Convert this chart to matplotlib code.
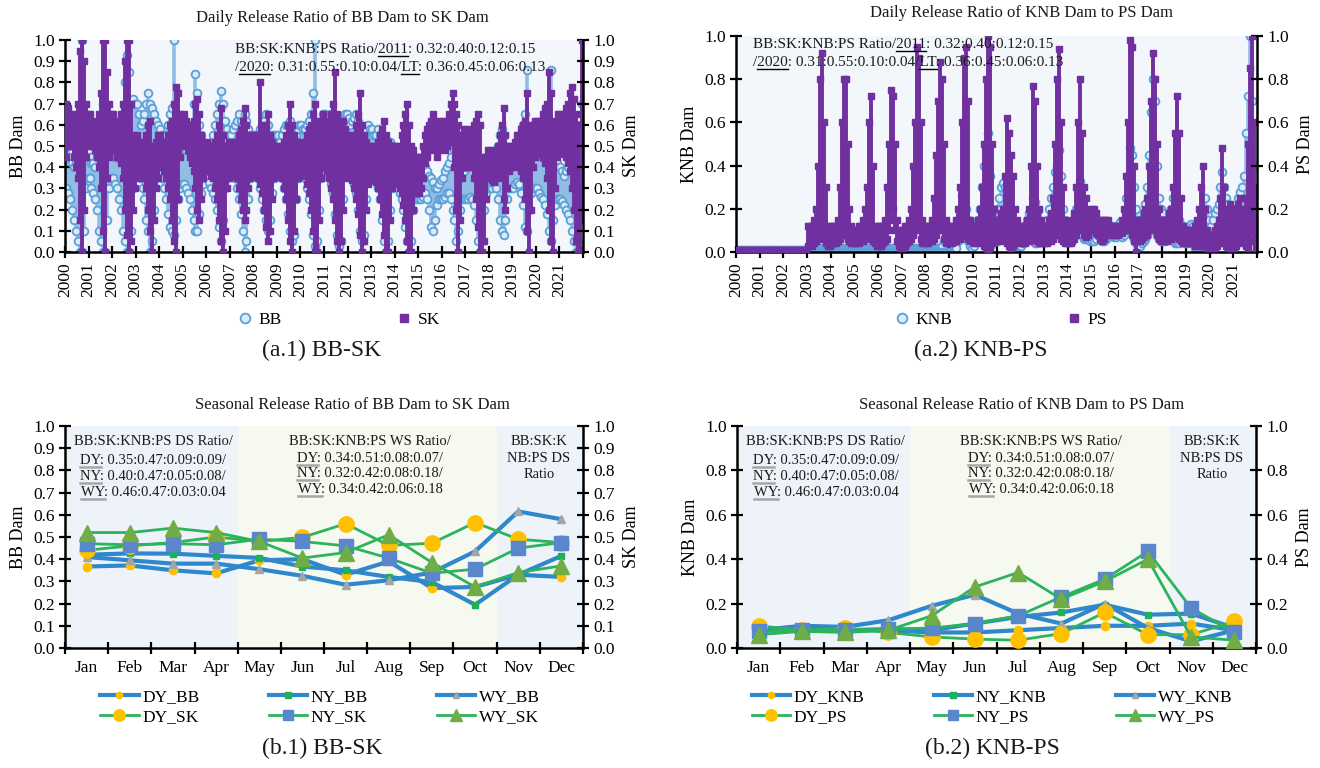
import numpy as np
import matplotlib
matplotlib.use('Agg')
import matplotlib.pyplot as plt
from matplotlib.lines import Line2D
from matplotlib.font_manager import FontProperties
from matplotlib.ticker import FormatStrFormatter

plt.rcParams['font.family'] = ['Liberation Serif', 'DejaVu Serif']

# ---------------- data ----------------
years = list(range(2000, 2022))
year_labels = [str(y) for y in years]
months = ['Jan', 'Feb', 'Mar', 'Apr', 'May', 'Jun', 'Jul', 'Aug', 'Sep', 'Oct', 'Nov', 'Dec']

# daily ratios, read as monthly upper / lower envelopes (one row per year)
bb_hi = [
    0.55,0.50,0.45,0.42,0.40,0.42,0.45,0.60,1.00,0.55,0.45,0.45,
    0.45,0.42,0.42,0.40,0.45,0.50,0.60,0.70,0.65,0.55,0.50,0.48,
    0.48,0.45,0.45,0.50,0.55,0.65,0.80,0.93,0.85,0.70,0.72,0.70,
    0.70,0.65,0.60,0.62,0.65,0.70,0.75,0.70,0.68,0.65,0.62,0.60,
    0.58,0.55,0.52,0.55,0.60,0.65,0.68,1.00,0.65,0.60,0.55,0.52,
    0.50,0.48,0.50,0.55,0.60,0.70,0.84,0.75,0.60,0.55,0.52,0.50,
    0.50,0.48,0.50,0.55,0.60,0.65,0.70,0.76,0.70,0.62,0.58,0.55,
    0.55,0.58,0.60,0.62,0.65,0.62,0.60,0.65,0.62,0.58,0.55,0.55,
    0.55,0.52,0.55,0.58,0.60,0.62,0.65,0.60,0.55,0.55,0.55,0.55,
    0.55,0.52,0.55,0.58,0.60,0.60,0.62,0.58,0.55,0.55,0.58,0.60,
    0.60,0.58,0.58,0.60,0.62,0.65,0.75,1.00,0.60,0.58,0.60,0.65,
    0.65,0.62,0.63,0.65,0.62,0.60,0.58,0.55,0.55,0.58,0.65,0.65,
    0.63,0.60,0.62,0.63,0.65,0.62,0.58,0.55,0.55,0.58,0.60,0.58,
    0.58,0.55,0.55,0.58,0.55,0.52,0.50,0.48,0.50,0.52,0.50,0.48,
    0.48,0.45,0.45,0.48,0.50,0.48,0.45,0.42,0.40,0.38,0.36,0.35,
    0.35,0.36,0.38,0.40,0.38,0.36,0.35,0.33,0.30,0.30,0.32,0.34,
    0.35,0.38,0.40,0.42,0.45,0.50,0.48,0.45,0.40,0.38,0.38,0.38,
    0.40,0.42,0.42,0.45,0.45,0.42,0.40,0.38,0.35,0.38,0.40,0.40,
    0.40,0.42,0.45,0.48,0.50,0.55,0.58,0.55,0.50,0.45,0.42,0.42,
    0.42,0.45,0.48,0.52,0.55,0.60,0.65,0.86,0.58,0.50,0.48,0.48,
    0.48,0.46,0.45,0.45,0.48,0.50,0.62,0.86,0.50,0.45,0.42,0.40,
    0.40,0.38,0.36,0.38,0.40,0.42,0.45,0.42,0.40,0.45,0.60,0.70,
]
bb_lo = [
    0.30,0.28,0.25,0.20,0.15,0.10,0.05,0.00,0.00,0.10,0.30,0.35,
    0.35,0.30,0.28,0.25,0.20,0.10,0.05,0.00,0.00,0.15,0.30,0.35,
    0.35,0.32,0.30,0.25,0.20,0.10,0.05,0.00,0.00,0.10,0.30,0.40,
    0.40,0.38,0.35,0.30,0.25,0.15,0.10,0.00,0.05,0.20,0.35,0.38,
    0.38,0.35,0.30,0.25,0.18,0.12,0.10,0.08,0.15,0.25,0.30,0.32,
    0.32,0.30,0.28,0.25,0.20,0.15,0.10,0.10,0.18,0.28,0.32,0.35,
    0.35,0.33,0.30,0.28,0.25,0.20,0.12,0.05,0.15,0.30,0.35,0.38,
    0.38,0.36,0.35,0.30,0.25,0.18,0.10,0.00,0.05,0.25,0.35,0.38,
    0.38,0.36,0.35,0.30,0.25,0.20,0.15,0.10,0.15,0.28,0.35,0.38,
    0.38,0.36,0.35,0.30,0.25,0.18,0.10,0.05,0.08,0.25,0.35,0.38,
    0.38,0.36,0.35,0.30,0.25,0.18,0.08,0.03,0.05,0.20,0.35,0.40,
    0.40,0.38,0.36,0.32,0.28,0.18,0.08,0.03,0.05,0.25,0.38,0.40,
    0.40,0.38,0.36,0.32,0.28,0.20,0.10,0.05,0.08,0.25,0.35,0.38,
    0.38,0.35,0.33,0.30,0.25,0.15,0.05,0.00,0.05,0.20,0.30,0.32,
    0.32,0.30,0.28,0.25,0.20,0.12,0.05,0.00,0.05,0.20,0.25,0.25,
    0.25,0.25,0.26,0.28,0.25,0.20,0.12,0.10,0.15,0.22,0.25,0.25,
    0.25,0.26,0.28,0.28,0.25,0.20,0.15,0.05,0.10,0.20,0.25,0.25,
    0.25,0.25,0.26,0.25,0.22,0.15,0.05,0.00,0.05,0.20,0.28,0.30,
    0.30,0.30,0.32,0.30,0.25,0.15,0.10,0.08,0.15,0.25,0.30,0.30,
    0.30,0.32,0.33,0.32,0.28,0.22,0.12,0.10,0.20,0.28,0.30,0.30,
    0.30,0.28,0.26,0.25,0.22,0.18,0.10,0.05,0.15,0.22,0.25,0.25,
    0.25,0.24,0.22,0.20,0.18,0.15,0.10,0.05,0.00,0.05,0.20,0.40,
]
sk_hi = [
    0.70,0.68,0.65,0.62,0.60,0.65,0.70,0.95,1.00,0.90,0.70,0.65,
    0.65,0.62,0.60,0.60,0.62,0.65,0.75,1.00,1.00,0.85,0.70,0.65,
    0.65,0.62,0.60,0.62,0.65,0.70,0.90,1.00,1.00,0.70,0.55,0.50,
    0.55,0.52,0.50,0.50,0.52,0.55,0.60,0.62,0.45,0.50,0.52,0.55,
    0.55,0.52,0.50,0.52,0.55,0.60,0.62,0.70,0.78,0.75,0.65,0.62,
    0.65,0.62,0.60,0.58,0.60,0.62,0.70,0.72,0.65,0.55,0.52,0.50,
    0.52,0.50,0.48,0.50,0.52,0.55,0.60,0.68,0.55,0.50,0.50,0.52,
    0.52,0.50,0.50,0.52,0.55,0.58,0.62,0.68,0.60,0.55,0.52,0.55,
    0.55,0.52,0.55,0.80,0.60,0.55,0.60,0.65,0.55,0.52,0.50,0.50,
    0.50,0.48,0.50,0.52,0.55,0.60,0.70,0.60,0.55,0.52,0.50,0.50,
    0.52,0.50,0.52,0.55,0.58,0.60,0.65,0.70,0.62,0.60,0.62,0.65,
    0.62,0.60,0.62,0.65,0.70,0.85,0.65,0.62,0.60,0.62,0.58,0.55,
    0.52,0.50,0.52,0.55,0.60,0.65,0.75,0.60,0.55,0.52,0.50,0.50,
    0.50,0.48,0.50,0.52,0.55,0.58,0.62,0.55,0.52,0.50,0.50,0.50,
    0.50,0.48,0.50,0.55,0.60,0.65,0.70,0.60,0.50,0.48,0.45,0.45,
    0.45,0.45,0.50,0.55,0.58,0.60,0.62,0.65,0.62,0.60,0.60,0.62,
    0.62,0.60,0.62,0.65,0.70,0.75,0.70,0.65,0.60,0.55,0.55,0.58,
    0.58,0.55,0.55,0.58,0.60,0.62,0.65,0.60,0.45,0.45,0.45,0.48,
    0.48,0.46,0.45,0.48,0.50,0.55,0.60,0.68,0.55,0.50,0.48,0.50,
    0.50,0.52,0.55,0.55,0.58,0.60,0.62,0.75,0.60,0.58,0.60,0.62,
    0.62,0.60,0.62,0.65,0.68,0.70,0.85,0.75,0.62,0.60,0.62,0.65,
    0.65,0.62,0.65,0.68,0.70,0.75,0.78,0.72,0.65,0.60,0.30,1.00,
]
sk_lo = [
    0.45,0.50,0.52,0.50,0.45,0.40,0.35,0.15,0.00,0.20,0.45,0.50,
    0.50,0.52,0.50,0.48,0.45,0.40,0.30,0.10,0.00,0.35,0.45,0.48,
    0.50,0.48,0.45,0.45,0.42,0.35,0.20,0.08,0.00,0.05,0.20,0.30,
    0.35,0.38,0.40,0.38,0.35,0.30,0.20,0.10,0.00,0.15,0.30,0.35,
    0.40,0.40,0.38,0.35,0.30,0.25,0.15,0.05,0.00,0.25,0.45,0.50,
    0.52,0.50,0.48,0.45,0.42,0.38,0.30,0.20,0.15,0.25,0.35,0.38,
    0.40,0.38,0.36,0.35,0.30,0.25,0.15,0.05,0.00,0.10,0.30,0.35,
    0.38,0.36,0.38,0.35,0.30,0.25,0.20,0.15,0.20,0.30,0.35,0.38,
    0.38,0.36,0.35,0.32,0.28,0.20,0.12,0.05,0.10,0.25,0.35,0.38,
    0.38,0.36,0.35,0.30,0.25,0.15,0.05,0.00,0.10,0.25,0.35,0.38,
    0.38,0.38,0.36,0.32,0.28,0.20,0.10,0.00,0.00,0.15,0.35,0.40,
    0.40,0.38,0.35,0.30,0.25,0.15,0.05,0.00,0.05,0.20,0.35,0.38,
    0.36,0.35,0.34,0.30,0.25,0.18,0.08,0.00,0.05,0.20,0.32,0.35,
    0.35,0.34,0.33,0.30,0.25,0.18,0.08,0.00,0.00,0.15,0.30,0.33,
    0.33,0.32,0.30,0.28,0.22,0.15,0.05,0.00,0.00,0.20,0.28,0.28,
    0.28,0.30,0.35,0.42,0.45,0.48,0.50,0.50,0.48,0.45,0.48,0.50,
    0.50,0.48,0.50,0.52,0.55,0.52,0.40,0.20,0.00,0.15,0.35,0.40,
    0.40,0.40,0.42,0.40,0.35,0.25,0.12,0.00,0.00,0.05,0.25,0.35,
    0.35,0.34,0.33,0.35,0.38,0.40,0.35,0.25,0.20,0.30,0.38,0.40,
    0.40,0.42,0.42,0.40,0.38,0.35,0.25,0.10,0.00,0.20,0.40,0.45,
    0.48,0.46,0.47,0.45,0.42,0.35,0.20,0.05,0.00,0.30,0.45,0.48,
    0.50,0.48,0.46,0.45,0.42,0.38,0.30,0.20,0.05,0.00,0.00,0.15,
]
knb_hi = [
    0.01,0.01,0.01,0.01,0.01,0.01,0.01,0.01,0.01,0.01,0.01,0.01,
    0.01,0.01,0.01,0.01,0.01,0.01,0.01,0.01,0.01,0.01,0.01,0.01,
    0.01,0.01,0.01,0.01,0.01,0.01,0.01,0.01,0.01,0.01,0.01,0.01,
    0.02,0.02,0.02,0.02,0.02,0.02,0.02,0.02,0.02,0.02,0.02,0.02,
    0.02,0.02,0.02,0.02,0.02,0.02,0.02,0.02,0.02,0.02,0.02,0.02,
    0.02,0.02,0.02,0.02,0.02,0.02,0.02,0.02,0.02,0.02,0.02,0.02,
    0.02,0.02,0.02,0.02,0.02,0.02,0.02,0.02,0.02,0.02,0.02,0.02,
    0.02,0.02,0.02,0.02,0.02,0.02,0.02,0.02,0.02,0.02,0.02,0.02,
    0.02,0.02,0.02,0.02,0.02,0.02,0.02,0.02,0.03,0.05,0.08,0.10,
    0.05,0.05,0.08,0.10,0.15,0.20,0.26,0.25,0.20,0.15,0.10,0.08,
    0.10,0.12,0.15,0.20,0.30,0.40,0.48,0.55,0.35,0.20,0.15,0.15,
    0.20,0.25,0.30,0.32,0.30,0.25,0.20,0.18,0.15,0.12,0.10,0.08,
    0.08,0.10,0.12,0.15,0.18,0.20,0.25,0.23,0.18,0.15,0.12,0.10,
    0.12,0.15,0.20,0.25,0.30,0.37,0.40,0.47,0.35,0.20,0.15,0.12,
    0.10,0.10,0.12,0.15,0.20,0.30,0.33,0.25,0.20,0.15,0.12,0.10,
    0.10,0.10,0.12,0.14,0.12,0.10,0.08,0.08,0.10,0.12,0.12,0.10,
    0.10,0.12,0.14,0.12,0.15,0.25,0.35,0.48,0.45,0.30,0.20,0.15,
    0.15,0.15,0.18,0.22,0.30,0.45,0.65,0.80,0.70,0.40,0.25,0.20,
    0.18,0.15,0.15,0.18,0.20,0.25,0.20,0.18,0.15,0.12,0.12,0.10,
    0.10,0.12,0.13,0.12,0.10,0.08,0.10,0.12,0.20,0.25,0.20,0.15,
    0.12,0.15,0.18,0.20,0.22,0.30,0.37,0.30,0.25,0.22,0.20,0.18,
    0.18,0.20,0.25,0.28,0.30,0.35,0.55,0.72,1.00,0.70,0.40,0.25,
]
knb_lo = [
    0.00,0.00,0.00,0.00,0.00,0.00,0.00,0.00,0.00,0.00,0.00,0.00,
    0.00,0.00,0.00,0.00,0.00,0.00,0.00,0.00,0.00,0.00,0.00,0.00,
    0.00,0.00,0.00,0.00,0.00,0.00,0.00,0.00,0.00,0.00,0.00,0.00,
    0.00,0.00,0.00,0.00,0.00,0.00,0.00,0.00,0.00,0.00,0.00,0.00,
    0.00,0.00,0.00,0.00,0.00,0.00,0.00,0.00,0.00,0.00,0.00,0.00,
    0.00,0.00,0.00,0.00,0.00,0.00,0.00,0.00,0.00,0.00,0.00,0.00,
    0.00,0.00,0.00,0.00,0.00,0.00,0.00,0.00,0.00,0.00,0.00,0.00,
    0.00,0.00,0.00,0.00,0.00,0.00,0.00,0.00,0.00,0.00,0.00,0.00,
    0.00,0.00,0.00,0.00,0.00,0.00,0.00,0.00,0.00,0.00,0.00,0.00,
    0.00,0.00,0.00,0.02,0.05,0.08,0.10,0.10,0.08,0.05,0.03,0.02,
    0.03,0.05,0.05,0.08,0.10,0.12,0.10,0.05,0.03,0.05,0.05,0.05,
    0.05,0.08,0.10,0.12,0.10,0.08,0.05,0.02,0.02,0.03,0.03,0.03,
    0.03,0.04,0.05,0.06,0.08,0.08,0.06,0.04,0.04,0.05,0.05,0.05,
    0.05,0.06,0.08,0.10,0.12,0.15,0.15,0.12,0.08,0.06,0.06,0.05,
    0.05,0.05,0.06,0.08,0.10,0.12,0.12,0.08,0.06,0.06,0.06,0.05,
    0.05,0.05,0.06,0.08,0.07,0.05,0.05,0.06,0.07,0.08,0.08,0.07,
    0.07,0.08,0.08,0.07,0.08,0.10,0.12,0.15,0.10,0.06,0.04,0.03,
    0.03,0.04,0.05,0.06,0.08,0.12,0.15,0.18,0.12,0.08,0.06,0.05,
    0.05,0.05,0.06,0.07,0.06,0.05,0.04,0.04,0.04,0.05,0.05,0.04,
    0.04,0.05,0.05,0.04,0.02,0.01,0.02,0.03,0.04,0.04,0.03,0.02,
    0.02,0.02,0.03,0.05,0.06,0.08,0.10,0.06,0.04,0.02,0.01,0.01,
    0.02,0.04,0.06,0.08,0.10,0.12,0.15,0.20,0.30,0.20,0.10,0.05,
]
ps_hi = [
    0.01,0.01,0.01,0.01,0.01,0.01,0.01,0.01,0.01,0.01,0.01,0.01,
    0.01,0.01,0.01,0.01,0.01,0.01,0.01,0.01,0.01,0.01,0.01,0.01,
    0.01,0.01,0.01,0.01,0.01,0.01,0.01,0.01,0.01,0.01,0.01,0.01,
    0.12,0.12,0.12,0.15,0.20,0.40,0.80,0.92,0.60,0.30,0.12,0.12,
    0.12,0.12,0.12,0.15,0.30,0.60,0.80,0.80,0.50,0.20,0.12,0.10,
    0.10,0.10,0.12,0.12,0.15,0.20,0.30,0.60,0.72,0.40,0.12,0.12,
    0.12,0.12,0.12,0.15,0.30,0.50,0.75,0.72,0.50,0.15,0.10,0.10,
    0.10,0.12,0.12,0.15,0.20,0.40,0.60,0.95,0.90,0.60,0.15,0.12,
    0.12,0.12,0.12,0.15,0.25,0.45,0.70,0.88,0.80,0.50,0.15,0.12,
    0.12,0.12,0.12,0.15,0.20,0.30,0.60,0.90,0.95,0.70,0.15,0.12,
    0.12,0.12,0.15,0.20,0.30,0.50,0.80,1.00,0.95,0.50,0.20,0.15,
    0.15,0.15,0.18,0.20,0.35,0.62,0.55,0.45,0.35,0.20,0.15,0.12,
    0.12,0.12,0.12,0.15,0.20,0.40,0.77,0.70,0.40,0.20,0.15,0.12,
    0.12,0.12,0.15,0.18,0.25,0.50,0.80,0.94,0.60,0.30,0.15,0.12,
    0.12,0.12,0.15,0.18,0.30,0.60,0.80,0.55,0.30,0.25,0.20,0.18,
    0.20,0.20,0.18,0.15,0.15,0.15,0.15,0.15,0.15,0.12,0.12,0.12,
    0.12,0.12,0.12,0.15,0.20,0.35,0.60,0.98,0.95,0.40,0.15,0.15,
    0.15,0.15,0.18,0.20,0.25,0.40,0.70,0.92,0.80,0.50,0.20,0.15,
    0.15,0.15,0.15,0.18,0.20,0.30,0.55,0.72,0.55,0.25,0.12,0.10,
    0.10,0.10,0.10,0.10,0.12,0.15,0.20,0.30,0.40,0.20,0.10,0.08,
    0.08,0.08,0.10,0.12,0.15,0.25,0.48,0.30,0.20,0.20,0.22,0.20,
    0.20,0.20,0.22,0.25,0.20,0.20,0.25,0.50,0.85,1.00,0.60,0.30,
]
ps_lo = [
    0.00,0.00,0.00,0.00,0.00,0.00,0.00,0.00,0.00,0.00,0.00,0.00,
    0.00,0.00,0.00,0.00,0.00,0.00,0.00,0.00,0.00,0.00,0.00,0.00,
    0.00,0.00,0.00,0.00,0.00,0.00,0.00,0.00,0.00,0.00,0.00,0.00,
    0.03,0.03,0.03,0.04,0.05,0.06,0.08,0.10,0.06,0.04,0.03,0.03,
    0.04,0.04,0.04,0.05,0.06,0.08,0.10,0.08,0.06,0.05,0.04,0.04,
    0.04,0.04,0.04,0.05,0.05,0.06,0.06,0.08,0.08,0.05,0.04,0.03,
    0.03,0.03,0.04,0.05,0.06,0.10,0.15,0.20,0.10,0.05,0.03,0.02,
    0.02,0.03,0.04,0.05,0.06,0.08,0.10,0.12,0.10,0.06,0.04,0.04,
    0.04,0.04,0.05,0.05,0.06,0.08,0.10,0.12,0.10,0.06,0.04,0.04,
    0.04,0.04,0.05,0.05,0.06,0.06,0.08,0.10,0.08,0.06,0.05,0.05,
    0.04,0.04,0.05,0.05,0.04,0.03,0.02,0.00,0.02,0.04,0.05,0.05,
    0.05,0.05,0.06,0.06,0.05,0.04,0.03,0.02,0.03,0.04,0.05,0.05,
    0.04,0.04,0.04,0.05,0.05,0.06,0.07,0.06,0.05,0.04,0.04,0.04,
    0.04,0.04,0.05,0.05,0.06,0.08,0.10,0.10,0.06,0.05,0.04,0.04,
    0.04,0.04,0.05,0.06,0.08,0.10,0.12,0.10,0.08,0.07,0.08,0.10,
    0.10,0.10,0.09,0.08,0.06,0.05,0.06,0.08,0.09,0.09,0.08,0.08,
    0.08,0.08,0.09,0.09,0.10,0.10,0.12,0.12,0.08,0.05,0.00,0.05,
    0.05,0.06,0.07,0.08,0.08,0.10,0.12,0.15,0.10,0.08,0.06,0.05,
    0.05,0.05,0.05,0.06,0.06,0.07,0.08,0.08,0.06,0.05,0.04,0.04,
    0.04,0.04,0.04,0.04,0.03,0.03,0.03,0.04,0.04,0.03,0.02,0.02,
    0.02,0.02,0.02,0.03,0.04,0.05,0.06,0.04,0.03,0.02,0.02,0.02,
    0.02,0.03,0.04,0.05,0.05,0.04,0.03,0.02,0.05,0.10,0.05,0.02,
]

# seasonal (monthly mean) ratios
dy_bb = [0.367, 0.372, 0.350, 0.336, 0.395, 0.400, 0.330, 0.390, 0.270, 0.275, 0.330, 0.320]
ny_bb = [0.420, 0.426, 0.425, 0.415, 0.406, 0.367, 0.350, 0.320, 0.297, 0.195, 0.330, 0.415]
wy_bb = [0.410, 0.395, 0.380, 0.380, 0.355, 0.325, 0.285, 0.305, 0.340, 0.435, 0.615, 0.580]
dy_sk = [0.440, 0.460, 0.475, 0.500, 0.480, 0.498, 0.560, 0.462, 0.472, 0.565, 0.490, 0.475]
ny_sk = [0.470, 0.465, 0.470, 0.465, 0.490, 0.480, 0.460, 0.405, 0.337, 0.355, 0.450, 0.475]
wy_sk = [0.520, 0.520, 0.540, 0.520, 0.480, 0.405, 0.430, 0.510, 0.385, 0.275, 0.340, 0.370]

dy_knb = [0.080, 0.080, 0.080, 0.080, 0.070, 0.070, 0.080, 0.090, 0.100, 0.100, 0.110, 0.080]
ny_knb = [0.080, 0.080, 0.080, 0.085, 0.080, 0.110, 0.140, 0.160, 0.195, 0.150, 0.155, 0.090]
wy_knb = [0.080, 0.100, 0.095, 0.125, 0.190, 0.240, 0.155, 0.110, 0.200, 0.090, 0.030, 0.080]
dy_ps = [0.100, 0.080, 0.090, 0.070, 0.050, 0.040, 0.035, 0.065, 0.160, 0.060, 0.060, 0.120]
ny_ps = [0.075, 0.080, 0.080, 0.085, 0.090, 0.110, 0.145, 0.230, 0.310, 0.435, 0.180, 0.070]
wy_ps = [0.060, 0.075, 0.070, 0.080, 0.145, 0.275, 0.340, 0.220, 0.300, 0.400, 0.050, 0.035]

# ---------------- styling ----------------
FW, FH = 1320, 768
fig = plt.figure(figsize=(FW / 100, FH / 100), dpi=100)
renderer = fig.canvas.get_renderer()

def fx(px):
    return px / FW

def fy(py):
    return 1 - py / FH

BLUE = '#2f87cc'
GREEN = '#2bb35e'
YELLOW = '#ffc000'
SQ_BLUE = '#5a86cc'
TRI_GREEN = '#70ad47'
GREY = '#a5a5a5'
SMALL_SQ = '#1fb15a'
PURPLE = '#7030a0'
CIRC_EDGE = '#5b9fd8'
CIRC_FACE = '#dceaf7'
PLOT_BG = '#f3f7fc'
DS_BG = '#edf3f9'
WS_BG = '#f6f9ef'
TXT = '#1a1a1a'


def rich_text(x_px, y_px, segments, size, ha='left', ul_color='black', ul_lw=1.0):
    fp = FontProperties(family='Liberation Serif', size=size)

    def width(s):
        if not s:
            return 0.0
        w, h, d = renderer.get_text_width_height_descent(s, fp, ismath=False)
        return w

    full = ''.join(s for s, _ in segments)
    total = width(full)
    x0 = x_px - total / 2 if ha == 'center' else x_px
    fig.text(fx(x0), fy(y_px), full, fontproperties=fp, ha='left', va='baseline', color=TXT)
    prefix = ''
    for s, ul in segments:
        start = width(prefix)
        prefix += s
        end = width(prefix)
        if ul:
            fig.add_artist(Line2D([fx(x0 + start), fx(x0 + end)], [fy(y_px + 3)] * 2,
                                  transform=fig.transFigure, color=ul_color, lw=ul_lw))


def style_axes(ax, ax2, ystep, ylab_l, ylab_r):
    for a in (ax, ax2):
        a.set_ylim(0, 1)
        a.set_yticks(np.round(np.arange(0, 1.0001, ystep), 2))
        a.yaxis.set_major_formatter(FormatStrFormatter('%.1f'))
        a.tick_params(axis='y', direction='inout', length=9, width=1.6, labelsize=12.5,
                      colors='black', pad=3)
    ax.tick_params(axis='x', direction='inout', length=9, width=1.6, labelsize=12.5, pad=3)
    ax.spines['top'].set_visible(False)
    ax.spines['right'].set_visible(False)
    for sp in ('top', 'left', 'bottom'):
        ax2.spines[sp].set_visible(False)
    for sp in ('left', 'bottom'):
        ax.spines[sp].set_linewidth(1.8)
    ax2.spines['right'].set_linewidth(1.8)
    ax.set_ylabel(ylab_l, fontsize=13, labelpad=4)
    ax2.set_ylabel(ylab_r, fontsize=13, labelpad=6)


# ---------------- daily panels ----------------
t = np.array([y + (m + 0.5) / 12.0 for y in years for m in range(12)])


def daily_panel(rect, lo_a, hi_a, lo_b, hi_b, ystep, ylab_l, ylab_r):
    ax = fig.add_axes(rect)
    ax.set_facecolor(PLOT_BG)
    ax2 = ax.twinx()
    ax.vlines(t, lo_a, hi_a, color='#8fbde6', lw=2.6, zorder=1)
    ax.plot(t, hi_a, 'o', ms=5.6, mfc=CIRC_FACE, mec=CIRC_EDGE, mew=1.3, zorder=2)
    ax.plot(t, lo_a, 'o', ms=5.6, mfc=CIRC_FACE, mec=CIRC_EDGE, mew=1.3, zorder=2)
    ax2.vlines(t, lo_b, hi_b, color=PURPLE, lw=2.8, zorder=1)
    ax2.plot(t, hi_b, 's', ms=4.2, color=PURPLE, zorder=2)
    ax2.plot(t, lo_b, 's', ms=4.2, color=PURPLE, zorder=2)
    ax.set_xlim(2000, 2022)
    ax.set_xticks(list(range(2000, 2023)))
    ax.set_xticklabels(year_labels + [''], rotation=90)
    style_axes(ax, ax2, ystep, ylab_l, ylab_r)
    return ax, ax2


ax_a1, ax_a1r = daily_panel([fx(65), fy(252), fx(583) - fx(65), fy(40) - fy(252)],
                            bb_lo, bb_hi, sk_lo, sk_hi, 0.1, 'BB Dam', 'SK Dam')
ax_a2, ax_a2r = daily_panel([fx(736), fy(252), fx(1257) - fx(736), fy(36) - fy(252)],
                            knb_lo, knb_hi, ps_lo, ps_hi, 0.2, 'KNB Dam', 'PS Dam')

fig.text(fx(342), fy(18), 'Daily Release Ratio of BB Dam to SK Dam', ha='center', va='center', fontsize=12, color=TXT)
fig.text(fx(1021), fy(13), 'Daily Release Ratio of KNB Dam to PS Dam', ha='center', va='center', fontsize=12, color=TXT)

for (x0, y1, y2) in [(235, 53, 71), (753, 48, 66)]:
    rich_text(x0, y1, [('BB:SK:KNB:PS Ratio/', False), ('2011', True), (': 0.32:0.40:0.12:0.15', False)], 11)
    rich_text(x0, y2, [('/', False), ('2020', True), (': 0.31:0.55:0.10:0.04/', False), ('LT', True),
                       (': 0.36:0.45:0.06:0.13', False)], 11)

circ_h = Line2D([], [], ls='none', marker='o', ms=7, mfc=CIRC_FACE, mec=CIRC_EDGE, mew=1.3)
sq_h = Line2D([], [], ls='none', marker='s', ms=6, color=PURPLE)
for cx, labs in [(338, ['BB', 'SK']), (1000, ['KNB', 'PS'])]:
    fig.legend([circ_h, sq_h], labs, loc='center', bbox_to_anchor=(fx(cx), fy(320)), ncol=2,
               frameon=False, fontsize=12.5, columnspacing=6.5, handletextpad=0.3, handlelength=1.0)

fig.text(fx(322), fy(350), '(a.1) BB-SK', ha='center', va='center', fontsize=17, color=TXT)
fig.text(fx(981), fy(350), '(a.2) KNB-PS', ha='center', va='center', fontsize=17, color=TXT)

# ---------------- seasonal panels ----------------
x_m = np.arange(12)

series_style = [
    dict(color=BLUE, lw=3.0, marker='o', ms=6, mfc=YELLOW, mec=YELLOW),
    dict(color=BLUE, lw=3.0, marker='s', ms=5, mfc=SMALL_SQ, mec=SMALL_SQ),
    dict(color=BLUE, lw=3.0, marker='^', ms=6, mfc=GREY, mec=GREY),
    dict(color=GREEN, lw=2.0, marker='o', ms=11, mfc=YELLOW, mec=YELLOW),
    dict(color=GREEN, lw=2.0, marker='s', ms=10, mfc=SQ_BLUE, mec=SQ_BLUE),
    dict(color=GREEN, lw=2.0, marker='^', ms=11, mfc=TRI_GREEN, mec=TRI_GREEN),
]


def seasonal_panel(rect, left_series, right_series, ystep, ylab_l, ylab_r):
    ax = fig.add_axes(rect)
    ax.set_facecolor('white')
    ax.axvspan(-0.5, 3.5, color=DS_BG, lw=0, zorder=0)
    ax.axvspan(3.5, 9.5, color=WS_BG, lw=0, zorder=0)
    ax.axvspan(9.5, 11.5, color=DS_BG, lw=0, zorder=0)
    ax2 = ax.twinx()
    handles = []
    for vals, st in zip(left_series, series_style[:3]):
        h, = ax.plot(x_m, vals, zorder=3, **st)
        handles.append(h)
    for vals, st in zip(right_series, series_style[3:]):
        h, = ax2.plot(x_m, vals, zorder=3, **st)
        handles.append(h)
    ax.set_xlim(-0.5, 11.5)
    ax.set_xticks(np.arange(-0.5, 11.6, 1.0))
    ax.set_xticklabels([])
    ax.set_xticks(x_m, minor=True)
    ax.set_xticklabels(months, minor=True)
    ax.tick_params(axis='x', which='minor', length=0, labelsize=12.5, pad=9)
    style_axes(ax, ax2, ystep, ylab_l, ylab_r)
    return ax, ax2, handles


bl_rect = [fx(65), fy(648), fx(583) - fx(65), fy(426) - fy(648)]
br_rect = [fx(737), fy(648), fx(1256) - fx(737), fy(426) - fy(648)]
ax_b1, ax_b1r, h1 = seasonal_panel(bl_rect, [dy_bb, ny_bb, wy_bb], [dy_sk, ny_sk, wy_sk], 0.1, 'BB Dam', 'SK Dam')
ax_b2, ax_b2r, h2 = seasonal_panel(br_rect, [dy_knb, ny_knb, wy_knb], [dy_ps, ny_ps, wy_ps], 0.2, 'KNB Dam', 'PS Dam')

fig.text(fx(352), fy(405), 'Seasonal Release Ratio of BB Dam to SK Dam', ha='center', va='center', fontsize=12, color=TXT)
fig.text(fx(1022), fy(405), 'Seasonal Release Ratio of KNB Dam to PS Dam', ha='center', va='center', fontsize=12, color=TXT)

for (cl, cm, cr) in [(153, 370, 539), (826, 1041, 1212)]:
    ds_lines = [('BB:SK:KNB:PS DS Ratio/', None), ('DY', ': 0.35:0.47:0.09:0.09/'),
                ('NY', ': 0.40:0.47:0.05:0.08/'), ('WY', ': 0.46:0.47:0.03:0.04')]
    ws_lines = [('BB:SK:KNB:PS WS Ratio/', None), ('DY', ': 0.34:0.51:0.08:0.07/'),
                ('NY', ': 0.32:0.42:0.08:0.18/'), ('WY', ': 0.34:0.42:0.06:0.18')]
    for lines, cx, ys in [(ds_lines, cl, [445, 464, 480, 496]), (ws_lines, cm, [445, 462, 477, 493])]:
        for (a, b), yy in zip(lines, ys):
            if b is None:
                rich_text(cx, yy, [(a, False)], 10.5, ha='center')
            else:
                rich_text(cx, yy, [(a, True), (b, False)], 10.5, ha='center', ul_color='#a6a6a6', ul_lw=1.8)
    for s, yy in zip(['BB:SK:K', 'NB:PS DS', 'Ratio'], [445, 462, 478]):
        rich_text(cr, yy, [(s, False)], 10.5, ha='center')

order = [0, 3, 1, 4, 2, 5]
for cx, hs, labs in [(320, h1, ['DY_BB', 'NY_BB', 'WY_BB', 'DY_SK', 'NY_SK', 'WY_SK']),
                     (992, h2, ['DY_KNB', 'NY_KNB', 'WY_KNB', 'DY_PS', 'NY_PS', 'WY_PS'])]:
    fig.legend([hs[i] for i in order], [labs[i] for i in order], loc='center',
               bbox_to_anchor=(fx(cx), fy(707)), ncol=3, frameon=False, fontsize=12.5,
               columnspacing=4.0, handletextpad=0.2, handlelength=2.2, labelspacing=0.2,
               markerscale=0.75)

fig.text(fx(322), fy(748), '(b.1) BB-SK', ha='center', va='center', fontsize=17, color=TXT)
fig.text(fx(992), fy(748), '(b.2) KNB-PS', ha='center', va='center', fontsize=17, color=TXT)

fig.savefig('out.png', dpi=100)
